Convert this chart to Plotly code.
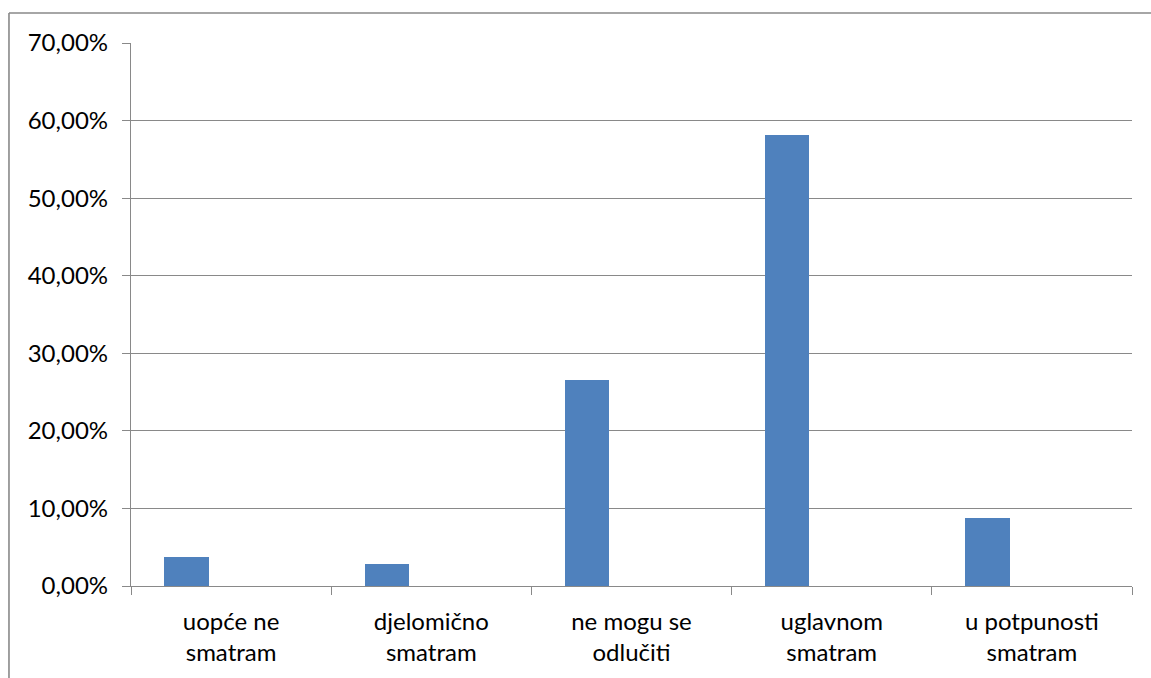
import plotly.graph_objects as go

categories = [
    "uopće ne<br>smatram",
    "djelomično<br>smatram",
    "ne mogu se<br>odlučiti",
    "uglavnom<br>smatram",
    "u potpunosti<br>smatram",
]
shares = [0.037, 0.029, 0.265, 0.581, 0.088]
y_ticks = [0.0, 0.1, 0.2, 0.3, 0.4, 0.5, 0.6, 0.7]

GRID = "#898989"
FONT = "Lato, Calibri, Arial, sans-serif"

fig = go.Figure()
# Excel-style cluster of three slots per category; only the first is filled
fig.add_trace(
    go.Bar(
        x=categories,
        y=shares,
        width=0.222,
        offset=-0.3333,
        marker={"color": "#4F81BD", "line": {"width": 0}},
        showlegend=False,
        hoverinfo="x+y",
    )
)

fig.update_layout(
    width=1151,
    height=678,
    margin={"l": 131, "r": 19, "t": 43, "b": 92},
    plot_bgcolor="white",
    paper_bgcolor="white",
    separators=",.",
    font={"family": FONT, "size": 24, "color": "#000000"},
    bargap=0,
)
fig.update_yaxes(
    range=[0, 0.7],
    tickvals=y_ticks,
    tickformat=".2%",
    showgrid=True,
    gridcolor=GRID,
    gridwidth=1.3,
    showline=True,
    linecolor=GRID,
    linewidth=1.3,
    ticks="outside",
    ticklen=8,
    tickcolor=GRID,
    tickwidth=1.3,
    ticklabelstandoff=9,
    zeroline=False,
    automargin=False,
)
fig.update_xaxes(
    showline=True,
    linecolor=GRID,
    linewidth=1.3,
    ticks="outside",
    tickson="boundaries",
    ticklen=8,
    tickcolor=GRID,
    tickwidth=1.3,
    ticklabelstandoff=14,
    showgrid=False,
    automargin=False,
)
# outer chart-area frame: only its top and left edges fall inside the page
frame = {"color": GRID, "width": 1.6}
fig.add_shape(type="line", xref="paper", yref="paper",
              x0=-0.1219, y0=1.0552, x1=1.019, y1=1.0552, line=frame)
fig.add_shape(type="line", xref="paper", yref="paper",
              x0=-0.1219, y0=1.0552, x1=-0.1219, y1=-0.1694, line=frame)

# drop the default 8px body margin so the figure fills the window exactly
fig.write_html(
    "out.html",
    config={"displayModeBar": False},
    post_script=(
        "document.body.style.margin='0';"
        "document.body.style.overflow='hidden';"
        "document.documentElement.style.overflow='hidden';"
    ),
)
